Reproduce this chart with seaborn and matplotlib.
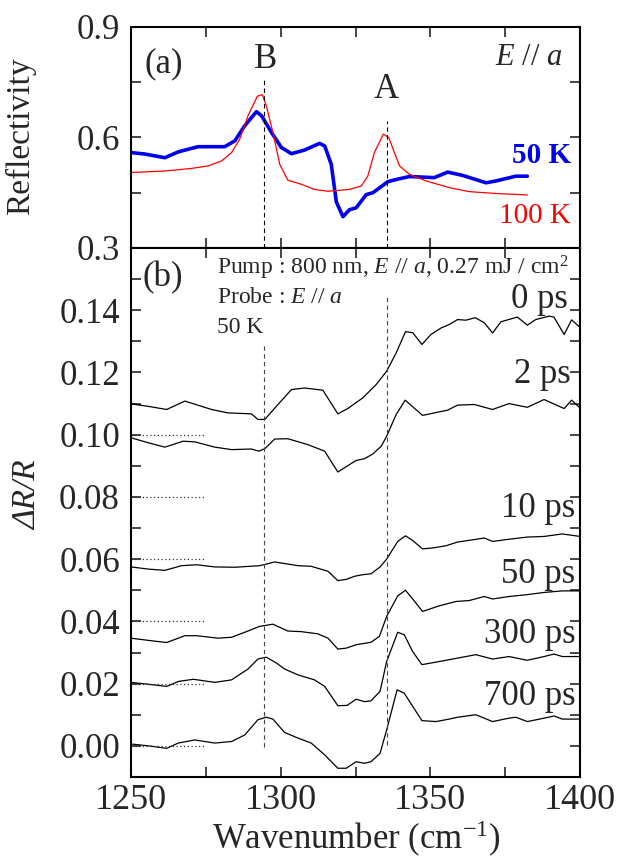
import numpy as np
import pandas as pd
import matplotlib
matplotlib.use('Agg')
import matplotlib.pyplot as plt
from matplotlib.ticker import MultipleLocator, FixedLocator, FormatStrFormatter
import seaborn as sns

sns.set_style('ticks')
plt.rcParams['font.family'] = ['Liberation Serif', 'DejaVu Serif']
plt.rcParams['mathtext.fontset'] = 'custom'
plt.rcParams['mathtext.rm'] = 'Liberation Serif'
plt.rcParams['mathtext.it'] = 'Liberation Serif:italic'

# (a) steady-state reflectivity
wn_50K = [1250, 1254.7, 1261.3, 1265.8, 1272.4, 1276.9, 1281.3, 1284.7, 1288, 1291.9, 1293.6, 1296.9,
          1300.2, 1303.6, 1308, 1313, 1314.7, 1316.9, 1318.6, 1320.8, 1323, 1325.2, 1328.6, 1330.8,
          1335.8, 1338.6, 1343, 1351.3, 1355.8, 1360.8, 1368.6, 1371.9, 1378.6, 1382.4]
refl_50K = [0.559, 0.555, 0.545, 0.561, 0.575, 0.575, 0.575, 0.591, 0.632, 0.670, 0.659, 0.614,
            0.573, 0.556, 0.566, 0.584, 0.577, 0.527, 0.425, 0.385, 0.404, 0.409, 0.445, 0.450,
            0.480, 0.486, 0.494, 0.491, 0.506, 0.497, 0.477, 0.482, 0.495, 0.495]
wn_100K = [1250, 1261.3, 1270.2, 1275.8, 1280.2, 1283.6, 1286.3, 1289.1, 1292.2, 1293.9, 1295.2, 1297.4,
           1299.7, 1302.4, 1306.9, 1311.3, 1315.8, 1323, 1326.9, 1329.1, 1331.3, 1334.3, 1336.1, 1338,
           1339.7, 1343, 1348.6, 1356.3, 1363, 1371.9, 1382.4]
refl_100K = [0.505, 0.509, 0.516, 0.523, 0.536, 0.559, 0.595, 0.659, 0.712, 0.716, 0.686, 0.614,
             0.527, 0.484, 0.473, 0.459, 0.454, 0.459, 0.468, 0.495, 0.559, 0.609, 0.600, 0.559,
             0.523, 0.500, 0.482, 0.464, 0.453, 0.448, 0.444]

# (b) transient spectra (offset as plotted)
wn_0ps = [1250, 1255.8, 1261.9, 1268, 1276.9, 1282.4, 1290.2, 1292.4, 1294.7, 1299.1, 1303.6, 1308,
          1314.1, 1319.1, 1322.4, 1327.4, 1331.9, 1335.4, 1338.6, 1341.7, 1344.1, 1347.2, 1350.2,
          1353.6, 1356.3, 1359.1, 1361.9, 1365, 1368, 1370.8, 1373.6, 1379.1, 1382.4, 1385.2, 1389.7,
          1391.3, 1394.7, 1397.2, 1400]
dr_0ps = [0.1099, 0.1091, 0.1081, 0.1108, 0.1081, 0.1070, 0.1067, 0.1049, 0.1049, 0.1097, 0.1145, 0.1150,
          0.1143, 0.1067, 0.1084, 0.1118, 0.1161, 0.1204, 0.1263, 0.1331, 0.1328, 0.1290, 0.1322,
          0.1343, 0.1354, 0.1370, 0.1368, 0.1376, 0.1360, 0.1327, 0.1363, 0.1378, 0.1352, 0.1370, 0.1381,
          0.1378, 0.1322, 0.1369, 0.1345]
wn_2ps = [1250, 1255.8, 1261.3, 1267.4, 1271.3, 1278, 1283.6, 1290.2, 1292.7, 1294.7, 1298, 1302.4,
          1309.1, 1314.7, 1319.1, 1323, 1325.2, 1328, 1330.8, 1333.6, 1335.4, 1338.6, 1341.6, 1347.4,
          1355.8, 1359.1, 1364.7, 1370.8, 1376.3, 1382.4, 1388, 1394.7, 1397.2, 1400]
dr_2ps = [0.0990, 0.0974, 0.0960, 0.0979, 0.0977, 0.0960, 0.0952, 0.0954, 0.0947, 0.0955, 0.0986, 0.0987,
          0.0968, 0.0947, 0.0880, 0.0904, 0.0917, 0.0923, 0.0938, 0.0963, 0.0995, 0.1065, 0.1111, 0.1062,
          0.1079, 0.1095, 0.1097, 0.1081, 0.1100, 0.1088, 0.1113, 0.1084, 0.1111, 0.1086]
wn_10ps = [1250, 1255.8, 1261.3, 1266.9, 1271.9, 1278, 1284.7, 1293, 1298, 1305.8, 1310.2, 1315.8,
           1319.1, 1321.9, 1324.7, 1327.4, 1330.2, 1333.2, 1335.4, 1339.1, 1341.7, 1344.1, 1347.4,
           1350.8, 1355.2, 1359.1, 1364.7, 1368, 1370.8, 1376.3, 1382.4, 1388, 1394.1, 1400]
dr_10ps = [0.0575, 0.0568, 0.0564, 0.0579, 0.0582, 0.0575, 0.0574, 0.0579, 0.0591, 0.0579, 0.0577, 0.0561,
           0.0531, 0.0535, 0.0545, 0.0550, 0.0553, 0.0575, 0.0600, 0.0657, 0.0675, 0.0660, 0.0633,
           0.0636, 0.0643, 0.0655, 0.0663, 0.0668, 0.0657, 0.0664, 0.0671, 0.0673, 0.0681, 0.0673]
wn_50ps = [1250, 1255.8, 1261.9, 1268, 1271.9, 1279.1, 1283.6, 1288, 1293, 1297.4, 1302.4, 1306.9,
           1312.4, 1315.8, 1319.1, 1321.9, 1325.2, 1330.2, 1333, 1335.4, 1339.1, 1341.7, 1344.1,
           1347.4, 1353, 1358.6, 1363, 1368, 1370.8, 1376.3, 1382.4, 1388, 1394.1, 1400]
dr_50ps = [0.0346, 0.0339, 0.0332, 0.0354, 0.0354, 0.0346, 0.0349, 0.0365, 0.0384, 0.0391, 0.0369, 0.0367,
           0.0360, 0.0346, 0.0311, 0.0314, 0.0325, 0.0333, 0.0352, 0.0416, 0.0482, 0.0500, 0.0472,
           0.0432, 0.0450, 0.0464, 0.0467, 0.0480, 0.0472, 0.0480, 0.0486, 0.0493, 0.0498, 0.0498]
wn_300ps = [1250, 1255.8, 1261.9, 1265.8, 1270.8, 1278, 1283.6, 1289.1, 1292.4, 1295.2, 1298.6, 1301.3,
            1305.8, 1311.3, 1314.7, 1319.1, 1322.2, 1325.2, 1328, 1330.2, 1333.2, 1335.4, 1339.1,
            1341.3, 1344.1, 1347.2, 1353, 1359.1, 1365.2, 1370.8, 1376.3, 1382.4, 1388, 1391.3, 1394.1, 1400]
dr_300ps = [0.0204, 0.0198, 0.0191, 0.0207, 0.0214, 0.0204, 0.0212, 0.0247, 0.0279, 0.0285, 0.0266, 0.0247,
            0.0228, 0.0212, 0.0191, 0.0129, 0.0130, 0.0150, 0.0142, 0.0145, 0.0175, 0.0271, 0.0365,
            0.0357, 0.0303, 0.0261, 0.0271, 0.0282, 0.0293, 0.0279, 0.0287, 0.0275, 0.0287, 0.0295, 0.0287, 0.0287]
wn_700ps = [1250, 1255.8, 1261.9, 1265.8, 1271.3, 1278, 1283.6, 1288, 1292.4, 1295.2, 1297.4, 1301.3,
            1305.8, 1310.2, 1314.7, 1319.1, 1321.9, 1325.2, 1328, 1330.2, 1333.2, 1335.4, 1338.9,
            1341.3, 1344.1, 1347.2, 1351.9, 1356.3, 1359.1, 1365.2, 1370.8, 1376.3, 1378.6, 1382.4,
            1388, 1391.3, 1394.1, 1400]
dr_700ps = [0.0006, 0.0000, -0.0008, 0.0009, 0.0019, 0.0009, 0.0014, 0.0035, 0.0084, 0.0092, 0.0086, 0.0043,
            0.0025, 0.0009, -0.0029, -0.0072, -0.0072, -0.0051, -0.0056, -0.0051, -0.0024, 0.0051, 0.0180,
            0.0169, 0.0127, 0.0081, 0.0078, 0.0086, 0.0092, 0.0100, 0.0078, 0.0089, 0.0092, 0.0078,
            0.0089, 0.0096, 0.0086, 0.0086]

delay_labels = ['0 ps', '2 ps', '10 ps', '50 ps', '300 ps', '700 ps']
label_y = [0.1435, 0.1193, 0.0762, 0.0550, 0.0357, 0.0159]
label_x = [1396, 1397, 1398.5, 1398.5, 1398.5, 1398.5]
baselines = [0.10, 0.08, 0.06, 0.04, 0.02, 0.00]
yticks_b = [0.00, 0.02, 0.04, 0.06, 0.08, 0.10, 0.12, 0.14]
peak_B, peak_A = 1294.4, 1335.6

fs = 25
fig = plt.figure(figsize=(6.18, 8.59), dpi=100)
ax1 = fig.add_axes([0.212, 0.7113, 0.7265, 0.2573])
ax2 = fig.add_axes([0.212, 0.0955, 0.7265, 0.6158])

# panel (a)
sns.lineplot(x=wn_50K, y=refl_50K, ax=ax1, color='#0000ee', lw=2.6, sort=False, estimator=None)
sns.lineplot(x=wn_100K, y=refl_100K, ax=ax1, color='#ff0000', lw=0.9, sort=False, estimator=None)
ax1.vlines(peak_B, 0.3, 0.756, colors='k', linestyles=(0, (4, 3)), lw=0.8)
ax1.vlines(peak_A, 0.3, 0.645, colors='k', linestyles=(0, (4, 3)), lw=0.8)
ax1.set_xlim(1250, 1400)
ax1.set_ylim(0.3, 0.9)
ax1.yaxis.set_major_locator(MultipleLocator(0.3))
ax1.yaxis.set_minor_locator(MultipleLocator(0.15))
ax1.yaxis.set_major_formatter(FormatStrFormatter('%.1f'))
ax1.set_ylabel('Reflectivity', fontsize=24)
ax1.yaxis.set_label_coords(-0.212, 0.507)
ax1.text(1254.5, 0.80, '(a)', fontsize=fs, va='center', ha='left')
ax1.text(1294.9, 0.812, 'B', fontsize=fs, va='center', ha='center')
ax1.text(1335.4, 0.730, 'A', fontsize=fs, va='center', ha='center')
ax1.text(1394, 0.818, '$E$ // $a$', fontsize=22, va='center', ha='right')
ax1.text(1397, 0.550, '50 K', fontsize=21, va='center', ha='right', color='#0000ee', fontweight='bold')
ax1.text(1397, 0.386, '100 K', fontsize=21, va='center', ha='right', color='#ff0000')

# panel (b)
curves = [(wn_0ps, dr_0ps), (wn_2ps, dr_2ps), (wn_10ps, dr_10ps),
          (wn_50ps, dr_50ps), (wn_300ps, dr_300ps), (wn_700ps, dr_700ps)]
for (wn, dr), lab, lx, ly in zip(curves, delay_labels, label_x, label_y):
    sns.lineplot(x=wn, y=dr, ax=ax2, color='k', lw=0.9, sort=False, estimator=None)
    ax2.text(lx, ly, lab, fontsize=25, va='center', ha='right')
ax2.hlines(baselines, 1250, 1274.5, colors='#333333', linestyles=(0, (1, 2)), lw=0.9)
ax2.vlines(peak_B, -0.0005, 0.1295, colors='#444444', linestyles=(0, (4, 3)), lw=0.8)
ax2.vlines(peak_A, 0.0003, 0.1448, colors='#444444', linestyles=(0, (4, 3)), lw=0.8)
ax2.set_xlim(1250, 1400)
ax2.set_ylim(-0.01, 0.16)
ax2.yaxis.set_major_locator(FixedLocator(yticks_b))
ax2.yaxis.set_minor_locator(MultipleLocator(0.01))
ax2.yaxis.set_major_formatter(FormatStrFormatter('%.2f'))
ax2.set_ylabel('ΔR/R', fontsize=24, fontstyle='italic')
ax2.yaxis.set_label_coords(-0.196, 0.533)
ax2.set_xlabel('Wavenumber (cm$^{-1}$)', fontsize=25)
ax2.xaxis.set_label_coords(0.503, -0.080)
ax2.text(1254, 0.1504, '(b)', fontsize=fs, va='center', ha='left')
ax2.text(1278.6, 0.1536, 'Pump : 800 nm, $E$ // $a$, 0.27 mJ / cm$^2$', fontsize=17, va='center', ha='left')
ax2.text(1278.6, 0.1440, 'Probe : $E$ // $a$', fontsize=17, va='center', ha='left')
ax2.text(1278.6, 0.1343, '50 K', fontsize=17, va='center', ha='left')

for ax in (ax1, ax2):
    ax.xaxis.set_major_locator(MultipleLocator(50))
    ax.xaxis.set_minor_locator(MultipleLocator(25))
    ax.tick_params(which='both', direction='in', top=True, right=True, width=1.2, pad=8, length=7)
    ax.tick_params(axis='both', labelsize=fs)
    for s in ax.spines.values():
        s.set_linewidth(1.5)
        s.set_color('k')
ax1.tick_params(labelbottom=False)
ax1.set_xlabel('')
ax2.tick_params(axis='x', labelsize=26, pad=5)

fig.savefig('out.png', dpi=100)
